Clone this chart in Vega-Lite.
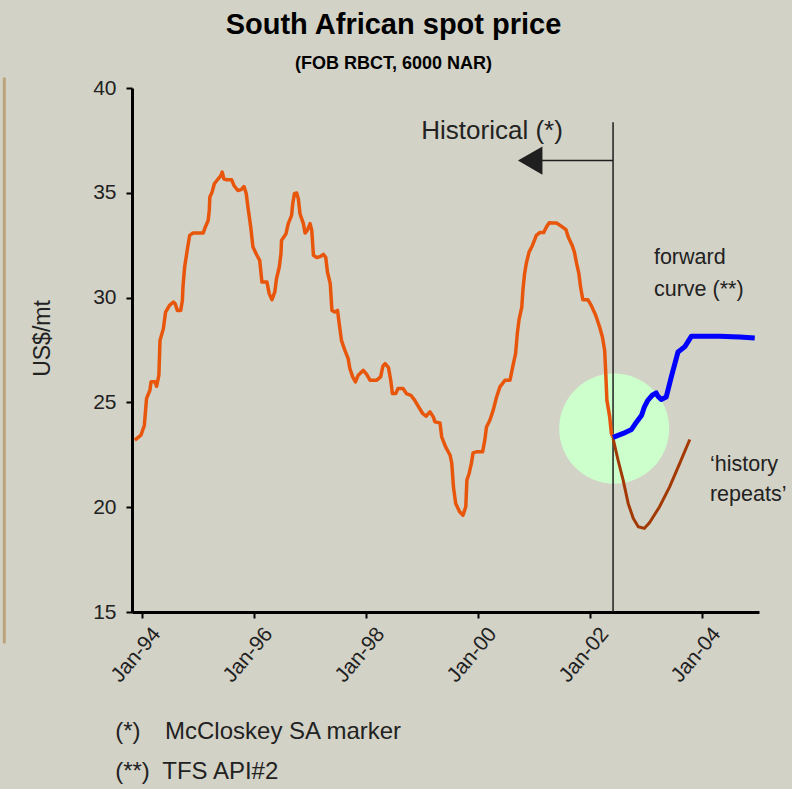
{
  "$schema": "https://vega.github.io/schema/vega-lite/v6.json",
  "autosize": {"type": "none"},
  "width": 627,
  "height": 524,
  "padding": {"left": 132, "top": 88, "right": 33, "bottom": 177},
  "background": "#d3d2c7",
  "config": {
    "view": {"stroke": null},
    "font": "Liberation Sans, Arial, sans-serif"
  },
  "title": {
    "text": "South African spot price",
    "subtitle": "(FOB RBCT, 6000 NAR)",
    "anchor": "middle",
    "dx": -52,
    "offset": 3,
    "font": "Liberation Sans, Arial, sans-serif",
    "fontSize": 29,
    "fontWeight": "bold",
    "color": "#000000",
    "subtitleFont": "Liberation Sans, Arial, sans-serif",
    "subtitleFontSize": 18,
    "subtitleFontWeight": "bold",
    "subtitleColor": "#000000",
    "subtitlePadding": 15
  },
  "datasets": {
    "hist": [
      {"t": 1993.87, "v": 23.2}, {"t": 1993.98, "v": 23.44}, {"t": 1994.04, "v": 23.9}, {"t": 1994.08, "v": 25.19},
      {"t": 1994.14, "v": 25.58}, {"t": 1994.16, "v": 25.98}, {"t": 1994.23, "v": 25.98}, {"t": 1994.26, "v": 25.77},
      {"t": 1994.30, "v": 26.3}, {"t": 1994.32, "v": 27.96}, {"t": 1994.38, "v": 28.52}, {"t": 1994.40, "v": 28.92},
      {"t": 1994.42, "v": 29.31}, {"t": 1994.49, "v": 29.63}, {"t": 1994.56, "v": 29.79}, {"t": 1994.59, "v": 29.71},
      {"t": 1994.63, "v": 29.39}, {"t": 1994.69, "v": 29.39}, {"t": 1994.72, "v": 29.87}, {"t": 1994.73, "v": 30.51},
      {"t": 1994.76, "v": 31.46}, {"t": 1994.81, "v": 32.33}, {"t": 1994.85, "v": 32.97}, {"t": 1994.91, "v": 33.08},
      {"t": 1995.09, "v": 33.08}, {"t": 1995.13, "v": 33.37}, {"t": 1995.18, "v": 33.68}, {"t": 1995.20, "v": 34.16},
      {"t": 1995.21, "v": 34.8}, {"t": 1995.25, "v": 35.03}, {"t": 1995.29, "v": 35.43}, {"t": 1995.36, "v": 35.67},
      {"t": 1995.41, "v": 35.83}, {"t": 1995.43, "v": 35.99}, {"t": 1995.46, "v": 35.67}, {"t": 1995.51, "v": 35.62},
      {"t": 1995.60, "v": 35.62}, {"t": 1995.64, "v": 35.35}, {"t": 1995.71, "v": 35.11}, {"t": 1995.77, "v": 35.15},
      {"t": 1995.82, "v": 35.3}, {"t": 1995.86, "v": 34.96}, {"t": 1995.89, "v": 34.32}, {"t": 1995.94, "v": 33.37},
      {"t": 1995.98, "v": 32.41}, {"t": 1996.05, "v": 32.02}, {"t": 1996.10, "v": 31.78}, {"t": 1996.14, "v": 30.74},
      {"t": 1996.23, "v": 30.74}, {"t": 1996.27, "v": 30.19}, {"t": 1996.32, "v": 29.9}, {"t": 1996.37, "v": 30.27},
      {"t": 1996.40, "v": 30.9}, {"t": 1996.45, "v": 31.46}, {"t": 1996.48, "v": 32.1}, {"t": 1996.49, "v": 32.73},
      {"t": 1996.57, "v": 33.05}, {"t": 1996.61, "v": 33.53}, {"t": 1996.67, "v": 33.92}, {"t": 1996.69, "v": 34.48},
      {"t": 1996.72, "v": 34.96}, {"t": 1996.76, "v": 34.99}, {"t": 1996.79, "v": 34.72}, {"t": 1996.82, "v": 34.0},
      {"t": 1996.88, "v": 33.53}, {"t": 1996.91, "v": 33.08}, {"t": 1996.95, "v": 33.21}, {"t": 1997.00, "v": 33.53},
      {"t": 1997.03, "v": 33.21}, {"t": 1997.06, "v": 32.02}, {"t": 1997.12, "v": 31.91}, {"t": 1997.19, "v": 31.97},
      {"t": 1997.24, "v": 32.06}, {"t": 1997.28, "v": 31.91}, {"t": 1997.31, "v": 31.22}, {"t": 1997.36, "v": 30.67},
      {"t": 1997.39, "v": 29.39}, {"t": 1997.44, "v": 29.31}, {"t": 1997.49, "v": 29.39}, {"t": 1997.52, "v": 28.76},
      {"t": 1997.56, "v": 27.96}, {"t": 1997.62, "v": 27.49}, {"t": 1997.68, "v": 27.09}, {"t": 1997.71, "v": 26.62},
      {"t": 1997.76, "v": 26.22}, {"t": 1997.81, "v": 25.98}, {"t": 1997.86, "v": 26.3}, {"t": 1997.95, "v": 26.53},
      {"t": 1998.01, "v": 26.34}, {"t": 1998.07, "v": 26.06}, {"t": 1998.19, "v": 26.06}, {"t": 1998.26, "v": 26.22},
      {"t": 1998.30, "v": 26.73}, {"t": 1998.34, "v": 26.85}, {"t": 1998.40, "v": 26.66}, {"t": 1998.44, "v": 26.06},
      {"t": 1998.47, "v": 25.42}, {"t": 1998.53, "v": 25.42}, {"t": 1998.57, "v": 25.66}, {"t": 1998.66, "v": 25.66},
      {"t": 1998.72, "v": 25.42}, {"t": 1998.80, "v": 25.34}, {"t": 1998.87, "v": 25.1}, {"t": 1998.93, "v": 24.82},
      {"t": 1999.01, "v": 24.47}, {"t": 1999.07, "v": 24.34}, {"t": 1999.14, "v": 24.55}, {"t": 1999.20, "v": 24.31},
      {"t": 1999.23, "v": 24.07}, {"t": 1999.32, "v": 24.02}, {"t": 1999.35, "v": 23.36}, {"t": 1999.42, "v": 22.88},
      {"t": 1999.50, "v": 22.48}, {"t": 1999.53, "v": 22.09}, {"t": 1999.56, "v": 20.97}, {"t": 1999.60, "v": 20.18},
      {"t": 1999.67, "v": 19.78}, {"t": 1999.73, "v": 19.62}, {"t": 1999.78, "v": 20.02}, {"t": 1999.80, "v": 21.29},
      {"t": 1999.84, "v": 21.61}, {"t": 1999.88, "v": 22.09}, {"t": 1999.91, "v": 22.59}, {"t": 1999.97, "v": 22.64},
      {"t": 2000.08, "v": 22.64}, {"t": 2000.12, "v": 23.2}, {"t": 2000.15, "v": 23.83}, {"t": 2000.21, "v": 24.15},
      {"t": 2000.27, "v": 24.63}, {"t": 2000.33, "v": 25.26}, {"t": 2000.39, "v": 25.74}, {"t": 2000.48, "v": 26.06},
      {"t": 2000.57, "v": 26.06}, {"t": 2000.63, "v": 26.85}, {"t": 2000.67, "v": 27.33}, {"t": 2000.70, "v": 28.28},
      {"t": 2000.73, "v": 28.92}, {"t": 2000.78, "v": 29.55}, {"t": 2000.80, "v": 30.35}, {"t": 2000.83, "v": 31.14},
      {"t": 2000.86, "v": 31.62}, {"t": 2000.91, "v": 32.17}, {"t": 2000.97, "v": 32.49}, {"t": 2001.04, "v": 32.97},
      {"t": 2001.10, "v": 33.1}, {"t": 2001.17, "v": 33.1}, {"t": 2001.22, "v": 33.37}, {"t": 2001.27, "v": 33.57},
      {"t": 2001.34, "v": 33.56}, {"t": 2001.40, "v": 33.56}, {"t": 2001.49, "v": 33.4}, {"t": 2001.57, "v": 33.24},
      {"t": 2001.61, "v": 32.89}, {"t": 2001.68, "v": 32.49}, {"t": 2001.72, "v": 32.17}, {"t": 2001.76, "v": 31.62},
      {"t": 2001.80, "v": 31.14}, {"t": 2001.83, "v": 30.51}, {"t": 2001.87, "v": 29.9}, {"t": 2001.96, "v": 29.9},
      {"t": 2002.02, "v": 29.63}, {"t": 2002.10, "v": 29.16}, {"t": 2002.17, "v": 28.6}, {"t": 2002.22, "v": 28.12},
      {"t": 2002.26, "v": 27.49}, {"t": 2002.28, "v": 26.38}, {"t": 2002.30, "v": 25.11}, {"t": 2002.35, "v": 24.31},
      {"t": 2002.38, "v": 23.52}, {"t": 2002.41, "v": 23.33}
    ],
    "fwd": [
      {"t": 2002.41, "v": 23.33}, {"t": 2002.59, "v": 23.52}, {"t": 2002.74, "v": 23.71}, {"t": 2002.83, "v": 24.07},
      {"t": 2002.92, "v": 24.39}, {"t": 2002.97, "v": 24.79}, {"t": 2003.03, "v": 25.1}, {"t": 2003.11, "v": 25.34},
      {"t": 2003.18, "v": 25.45}, {"t": 2003.21, "v": 25.3}, {"t": 2003.27, "v": 25.14}, {"t": 2003.36, "v": 25.26},
      {"t": 2003.45, "v": 26.22}, {"t": 2003.57, "v": 27.41}, {"t": 2003.69, "v": 27.65}, {"t": 2003.81, "v": 28.16},
      {"t": 2004.07, "v": 28.16}, {"t": 2004.31, "v": 28.16}, {"t": 2004.67, "v": 28.12}, {"t": 2004.94, "v": 28.07}
    ],
    "rep": [
      {"t": 2002.41, "v": 23.28}, {"t": 2002.50, "v": 22.24}, {"t": 2002.59, "v": 21.29}, {"t": 2002.68, "v": 20.18},
      {"t": 2002.77, "v": 19.47}, {"t": 2002.86, "v": 19.07}, {"t": 2002.97, "v": 18.99}, {"t": 2003.06, "v": 19.26},
      {"t": 2003.24, "v": 20.02}, {"t": 2003.42, "v": 20.97}, {"t": 2003.60, "v": 22.09}, {"t": 2003.78, "v": 23.23}
    ]
  },
  "encoding": {
    "x": {
      "field": "t", "type": "quantitative",
      "scale": {"domain": [1993.82, 2005.016], "nice": false, "zero": false},
      "axis": {
        "title": null, "grid": false,
        "values": [1994, 1996, 1998, 2000, 2002, 2004],
        "labelExpr": "'Jan-' + substring(toString(datum.value), 2, 4)",
        "labelAngle": -50, "labelAlign": "right", "labelBaseline": "top",
        "labelOffset": 6,
        "labelFont": "Liberation Sans, Arial, sans-serif",
        "labelFontSize": 21, "labelColor": "#222222", "labelPadding": 5,
        "domainColor": "#000000", "domainWidth": 3,
        "tickColor": "#000000", "tickWidth": 2, "tickSize": 6
      }
    },
    "y": {
      "field": "v", "type": "quantitative",
      "scale": {"domain": [15, 40], "nice": false, "zero": false},
      "axis": {
        "title": "US$/mt", "grid": false,
        "values": [15, 20, 25, 30, 35, 40],
        "labelFont": "Liberation Sans, Arial, sans-serif",
        "labelFontSize": 21, "labelColor": "#222222", "labelPadding": 10,
        "titleFont": "Liberation Sans, Arial, sans-serif",
        "titleFontSize": 23, "titleFontWeight": "normal", "titleColor": "#222222", "titlePadding": 38,
        "titleY": 250,
        "domainColor": "#000000", "domainWidth": 3,
        "tickColor": "#000000", "tickWidth": 2, "tickSize": 6
      }
    }
  },
  "layer": [
    {
      "data": {"values": [{"t": 1991.54, "v": 40.5, "v2": 13.5}]},
      "mark": {"type": "rule", "color": "#bca47a", "strokeWidth": 3},
      "encoding": {"y2": {"field": "v2"}}
    },
    {
      "data": {"values": [{"t": 2002.43, "v": 23.75}]},
      "mark": {"type": "point", "shape": "circle", "filled": true, "size": 12100, "color": "#ccffcc", "opacity": 1, "strokeWidth": 0}
    },
    {
      "data": {"values": [{"t": 2002.41, "v": 15, "v2": 38.36}]},
      "mark": {"type": "rule", "color": "#1f1f1f", "strokeWidth": 1.5},
      "encoding": {"y2": {"field": "v2"}}
    },
    {
      "data": {"values": [{"t": 2000.95, "t2": 2002.41, "v": 36.54}]},
      "mark": {"type": "rule", "color": "#1f1f1f", "strokeWidth": 1.5},
      "encoding": {"x2": {"field": "t2"}}
    },
    {
      "data": {"values": [{"t": 2000.93, "v": 36.54}]},
      "mark": {"type": "point", "shape": "triangle-left", "filled": true, "size": 800, "color": "#1f1f1f", "opacity": 1, "strokeWidth": 0}
    },
    {
      "data": {"name": "hist"},
      "mark": {"type": "line", "color": "#e8560c", "strokeWidth": 3.5, "strokeJoin": "round"}
    },
    {
      "data": {"name": "rep"},
      "mark": {"type": "line", "color": "#a33a05", "strokeWidth": 3, "strokeJoin": "round"}
    },
    {
      "data": {"name": "fwd"},
      "mark": {"type": "line", "color": "#0000ff", "strokeWidth": 5, "strokeJoin": "round"}
    },
    {
      "data": {"values": [{"t": 2000.25, "v": 37.93, "label": "Historical (*)"}]},
      "mark": {"type": "text", "align": "center", "baseline": "middle", "fontSize": 26, "color": "#222222", "font": "Liberation Sans, Arial, sans-serif"},
      "encoding": {"text": {"field": "label"}}
    },
    {
      "data": {"values": [
        {"t": 2003.14, "v": 31.87, "label": "forward"},
        {"t": 2003.14, "v": 30.35, "label": "curve (**)"},
        {"t": 2004.14, "v": 22.0, "label": "‘history"},
        {"t": 2004.14, "v": 20.58, "label": "repeats’"}
      ]},
      "mark": {"type": "text", "align": "left", "baseline": "middle", "fontSize": 21.5, "color": "#222222", "font": "Liberation Sans, Arial, sans-serif"},
      "encoding": {"text": {"field": "label"}}
    },
    {
      "data": {"values": [
        {"t": 1993.52, "v": 9.28, "label": "(*)"},
        {"t": 1994.41, "v": 9.28, "label": "McCloskey SA marker"},
        {"t": 1993.52, "v": 7.37, "label": "(**)"},
        {"t": 1994.36, "v": 7.37, "label": "TFS API#2"}
      ]},
      "mark": {"type": "text", "align": "left", "baseline": "middle", "fontSize": 24, "color": "#222222", "font": "Liberation Sans, Arial, sans-serif"},
      "encoding": {"text": {"field": "label"}}
    }
  ]
}
